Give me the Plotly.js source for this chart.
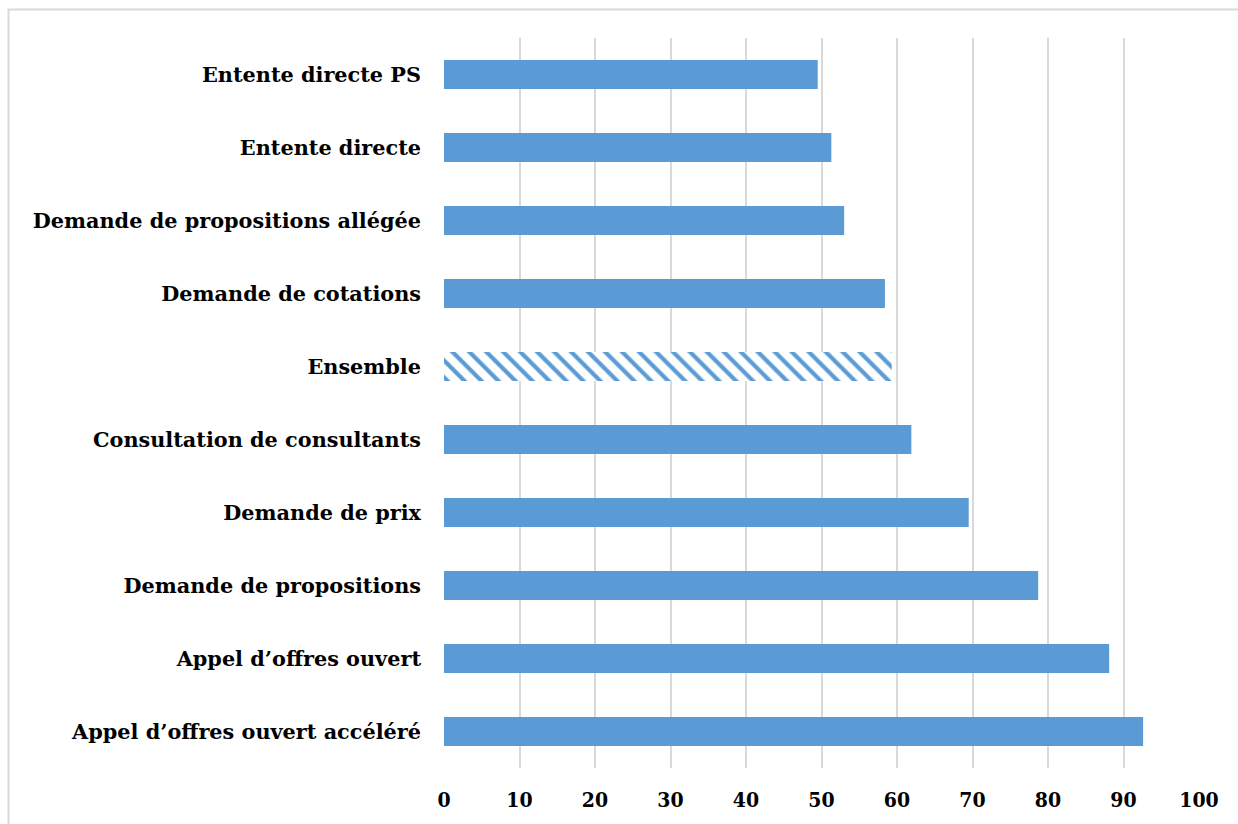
<!DOCTYPE html>
<html>
<head>
<meta charset="utf-8">
<script src="https://cdn.plot.ly/plotly-3.0.1.min.js"></script>
<style>
html,body{margin:0;padding:0;background:#fff;}
#chart{width:1238px;height:824px;}
</style>
</head>
<body>
<div id="chart"></div>
<script>
const categories = [
  "Entente directe PS",
  "Entente directe",
  "Demande de propositions allégée",
  "Demande de cotations",
  "Ensemble",
  "Consultation de consultants",
  "Demande de prix",
  "Demande de propositions",
  "Appel d’offres ouvert",
  "Appel d’offres ouvert accéléré"
];
const values = [49.5, 51.3, 53.0, 58.4, 59.3, 61.9, 69.5, 78.7, 88.1, 92.6];
const patternShapes = ["", "", "", "", "\\", "", "", "", "", ""];
const xTicks = [0, 10, 20, 30, 40, 50, 60, 70, 80, 90, 100];

const blue = "#5B9BD5";
const fontFam = "'DejaVu Serif', 'Liberation Serif', serif";

const trace = {
  type: "bar",
  orientation: "h",
  y: categories,
  x: values,
  marker: {
    color: blue,
    line: {width: 0},
    pattern: {
      shape: patternShapes,
      fillmode: "replace",
      bgcolor: "#ffffff",
      fgcolor: blue,
      size: 12,
      solidity: 0.35
    }
  },
  hoverinfo: "x+y"
};

const layout = {
  width: 1238,
  height: 824,
  margin: {l: 444, r: 39, t: 38, b: 56},
  paper_bgcolor: "#ffffff",
  plot_bgcolor: "#ffffff",
  bargap: 0.6,
  showlegend: false,
  font: {family: fontFam, color: "#000", size: 18},
  xaxis: {
    range: [0, 100],
    tickvals: xTicks,
    ticktext: xTicks.map(String),
    showgrid: true,
    gridcolor: "#D9D9D9",
    gridwidth: 2,
    zeroline: false,
    showline: false,
    ticks: "",
    ticklabelstandoff: 17,
    tickfont: {family: "'DejaVu Serif Condensed', 'DejaVu Serif', serif", size: 21, color: "#000", weight: "bold"},
    fixedrange: true
  },
  yaxis: {
    autorange: "reversed",
    showgrid: false,
    zeroline: false,
    showline: false,
    ticks: "",
    ticklabelstandoff: 22,
    tickfont: {family: fontFam, size: 20.8, color: "#000", weight: "bold"},
    fixedrange: true
  },
  shapes: [{
    type: "rect",
    xref: "paper", yref: "paper",
    x0: (8.5 - 444) / 755, x1: (1260 - 444) / 755,
    y0: (768 - 860) / 730, y1: (768 - 9.5) / 730,
    line: {color: "#D9D9D9", width: 2},
    fillcolor: "rgba(0,0,0,0)",
    layer: "below"
  }]
};

Plotly.newPlot("chart", [trace], layout, {displayModeBar: false, staticPlot: true});
</script>
</body>
</html>
